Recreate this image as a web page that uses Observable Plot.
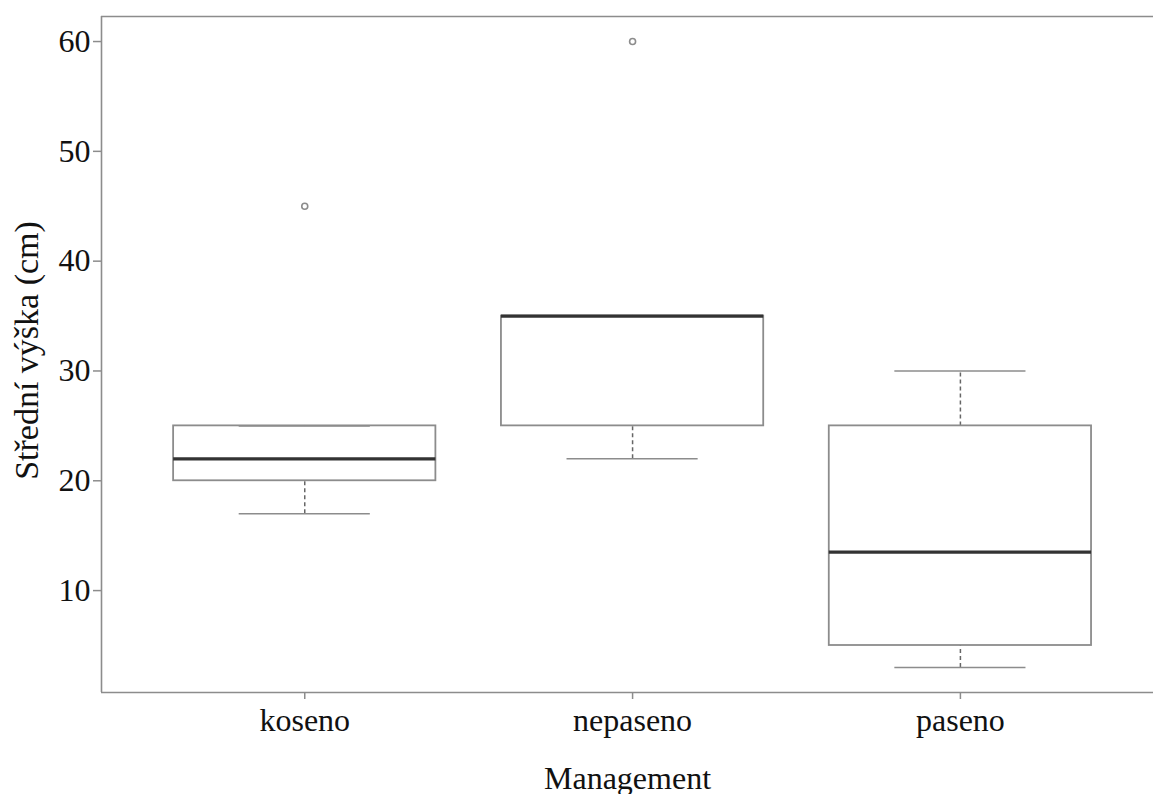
<!DOCTYPE html>
<html>
<head>
<meta charset="utf-8">
<script src="https://cdn.jsdelivr.net/npm/d3@7"></script>
<script src="https://cdn.jsdelivr.net/npm/@observablehq/plot@0.6"></script>
<style>
  html, body { margin: 0; padding: 0; background: #fff; overflow: hidden; }
</style>
</head>
<body>
<div id="chart"></div>
<script>
const categories = ["koseno", "nepaseno", "paseno"];
const lowerWhisker = [17, 22, 3];
const q1 = [20, 25, 5];
const median = [22, 35, 13.5];
const q3 = [25, 35, 25];
const upperWhisker = [25, 35, 30];
const outlierCategory = ["koseno", "nepaseno"];
const outlierValue = [45, 60];
const yTicks = [10, 20, 30, 40, 50, 60];
const xTitle = "Management";
const yTitle = "Střední výška (cm)";

const boxes = categories.map((c, i) => ({
  cat: c, pos: i + 1,
  lo: lowerWhisker[i], q1: q1[i], med: median[i], q3: q3[i], hi: upperWhisker[i]
}));
const outliers = outlierCategory.map((c, i) => ({pos: categories.indexOf(c) + 1, v: outlierValue[i]}));

const grey = "#8c8c8c";
const yDomain = [0.72, 62.28];
const xDomain = [0.38, 3.589];

const chart = Plot.plot({
  width: 1153,
  height: 794,
  marginLeft: 101,
  marginRight: 0,
  marginTop: 16,
  marginBottom: 102,
  style: {fontFamily: "'Liberation Serif', 'Times New Roman', serif", fontSize: "32px", background: "#fff", color: "#111"},
  x: {domain: xDomain},
  y: {domain: yDomain},
  marks: [
    // frame: left, top, bottom
    Plot.ruleX([xDomain[0]], {stroke: grey, strokeWidth: 1.6}),
    Plot.ruleY(yDomain, {stroke: grey, strokeWidth: 1.6}),
    // whiskers
    Plot.ruleX(boxes, {x: "pos", y1: "lo", y2: "q1", stroke: "#666", strokeWidth: 1.5, strokeDasharray: "4,3"}),
    Plot.ruleX(boxes, {x: "pos", y1: "q3", y2: "hi", stroke: "#666", strokeWidth: 1.5, strokeDasharray: "4,3"}),
    // caps
    Plot.ruleY(boxes, {y: "lo", x1: d => d.pos - 0.2, x2: d => d.pos + 0.2, stroke: grey, strokeWidth: 1.6}),
    Plot.ruleY(boxes, {y: "hi", x1: d => d.pos - 0.2, x2: d => d.pos + 0.2, stroke: grey, strokeWidth: 1.6}),
    // boxes
    Plot.rect(boxes, {x1: d => d.pos - 0.4, x2: d => d.pos + 0.4, y1: "q1", y2: "q3", fill: "none", stroke: grey, strokeWidth: 1.8}),
    // medians
    Plot.ruleY(boxes, {y: "med", x1: d => d.pos - 0.4, x2: d => d.pos + 0.4, stroke: "#333", strokeWidth: 3.2}),
    // outliers
    Plot.dot(outliers, {x: "pos", y: "v", r: 3, stroke: grey, strokeWidth: 1.6, fill: "none"}),
    // axes
    Plot.axisY({ticks: yTicks, tickSize: 8, tickPadding: 3, label: null, stroke: grey, strokeWidth: 1.5, fontSize: 32}),
    Plot.axisX({ticks: categories.map((c, i) => i + 1), tickFormat: v => categories[v - 1], tickSize: 7, tickPadding: 9, label: null, stroke: grey, strokeWidth: 1.5, fontSize: 32}),
    // axis titles
    Plot.text([xTitle], {frameAnchor: "bottom", dy: 96, lineAnchor: "bottom", textAnchor: "middle", text: d => d, fontSize: 32, fill: "#111"}),
    Plot.text([yTitle], {frameAnchor: "left", dx: -74, dy: -4, rotate: -90, textAnchor: "middle", text: d => d, fontSize: 34, fill: "#111"})
  ]
});
document.getElementById("chart").appendChild(chart);
</script>
</body>
</html>
